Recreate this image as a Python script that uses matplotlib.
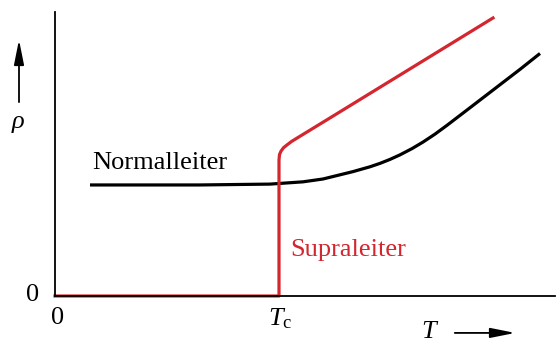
import matplotlib.pyplot as plt

plt.rcParams['font.family'] = ['Liberation Serif', 'DejaVu Serif']
plt.rcParams['mathtext.fontset'] = 'custom'
plt.rcParams['mathtext.it'] = 'Liberation Serif:italic'
plt.rcParams['mathtext.rm'] = 'Liberation Serif'

# Temperatur (willkürliche Einheiten), Sprungtemperatur bei Tc
Tc = 4.48

# Normalleiter: Restwiderstand, dann Anstieg
T_normal = [0.70, 2.90, 4.30, 4.96, 5.36, 5.96, 6.30, 6.50, 6.70, 6.90, 7.14, 7.36,
            7.60, 7.84, 8.10, 8.36, 8.90, 9.30, 9.70]
rho_normal = [3.91, 3.91, 3.94, 4.02, 4.12, 4.38, 4.55, 4.67, 4.81, 4.97, 5.19, 5.42,
              5.70, 6.01, 6.36, 6.71, 7.44, 7.98, 8.54]

# Supraleiter: Widerstand null unterhalb Tc
T_supra = [0, Tc, Tc, 4.49, 4.52, 4.57, 4.64, 4.73, 4.84, 5.5, 8.76]
rho_supra = [0, 0, 4.79, 4.98, 5.10, 5.22, 5.32, 5.44, 5.56, 6.27, 9.79]

rot = '#d4262e'
fs = 19

fig = plt.figure(figsize=(5.59, 3.44), dpi=100)
ax = fig.add_axes([55 / 559, 48 / 344, 500 / 559, 284 / 344])
ax.set_xlim(0, 10)
ax.set_ylim(0, 10)
ax.spines['top'].set_visible(False)
ax.spines['right'].set_visible(False)
for s in ['left', 'bottom']:
    ax.spines[s].set_linewidth(1.3)
ax.set_xticks([])
ax.set_yticks([])

ax.plot(T_normal, rho_normal, color='black', lw=2.3, solid_capstyle='butt')
ax.plot(T_supra, rho_supra, color=rot, lw=2.3, solid_joinstyle='round', clip_on=False)

ax.text(0.74, 4.3, 'Normalleiter', fontsize=fs, color='black', ha='left', va='bottom')
ax.text(4.7, 1.62, 'Supraleiter', fontsize=fs, color=rot, ha='left', va='center')

# Achsenbeschriftungen
ax.text(-0.32, 0.02, '0', fontsize=fs, ha='right', va='center')
ax.text(0.05, -0.77, '0', fontsize=fs, ha='center', va='center', clip_on=False)
ax.text(4.5, -0.8, r'$T_{\mathrm{c}}$', fontsize=fs, ha='center', va='center')
ax.text(7.5, -1.28, r'$T$', fontsize=fs, ha='center', va='center')
ax.text(-0.74, 6.05, r'$\rho$', fontsize=fs, ha='center', va='center')

pfeil = dict(arrowstyle='-|>,head_length=1.5,head_width=0.3', color='black', lw=1.3)
ax.annotate('', xy=(9.26, -1.3), xytext=(7.94, -1.3), annotation_clip=False, arrowprops=pfeil)
ax.annotate('', xy=(-0.72, 9.12), xytext=(-0.72, 6.73), annotation_clip=False, arrowprops=pfeil)

fig.savefig('out.png', dpi=100)
